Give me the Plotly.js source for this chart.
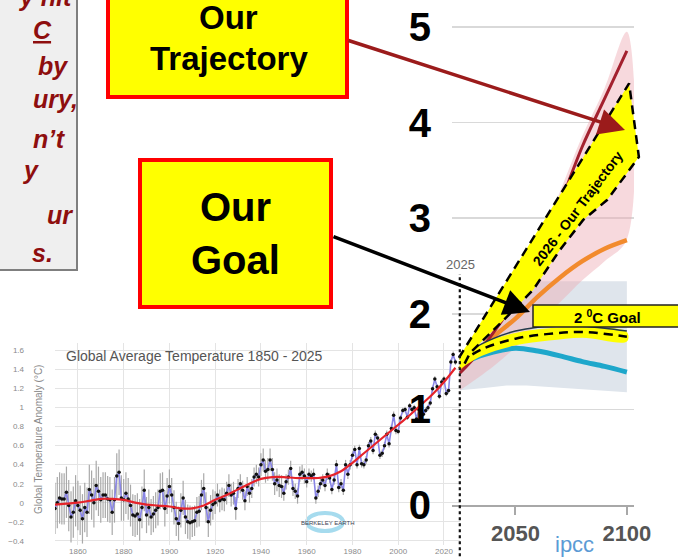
<!DOCTYPE html>
<html><head><meta charset="utf-8">
<script src="https://cdn.plot.ly/plotly-3.0.1.min.js"></script>
<style>html,body{margin:0;padding:0;background:#fff;}#chart{width:678px;height:557px;}</style>
</head><body><div id="chart"></div>
<script>
// ---------- DATA ----------
const berkStartYear = 1850;
const berkAnomaly = [
 -0.06, 0.00, 0.05, 0.04, 0.04, 0.11,-0.03,-0.15,-0.10, 0.02,
 -0.03,-0.08,-0.17,-0.05,-0.10, 0.14, 0.08, 0.00, 0.18, 0.12,
  0.03, 0.08, 0.08, 0.04, 0.03,-0.10, 0.03, 0.28, 0.32, 0.05,
  0.03, 0.10, 0.04,-0.03,-0.13,-0.14,-0.12,-0.18,-0.05, 0.13,
 -0.13,-0.05,-0.15,-0.12,-0.08,-0.05, 0.12, 0.13,-0.06, 0.07,
  0.17, 0.08,-0.05,-0.17,-0.22,-0.08, 0.05,-0.15,-0.20,-0.21,
 -0.20,-0.19,-0.10,-0.09, 0.08, 0.15,-0.05,-0.20,-0.08,-0.02,
  0.00, 0.08, 0.02, 0.04, 0.03, 0.10, 0.18, 0.08, 0.10,-0.06,
  0.15, 0.20, 0.13, 0.02, 0.17, 0.10, 0.15, 0.27, 0.30, 0.27,
  0.40, 0.45, 0.33, 0.35, 0.45, 0.35, 0.20, 0.24, 0.18, 0.17,
  0.10, 0.22, 0.27, 0.36, 0.15, 0.12, 0.07, 0.30, 0.32, 0.28,
  0.22, 0.30, 0.28, 0.30, 0.05, 0.12, 0.20, 0.24, 0.18, 0.30,
  0.26, 0.14, 0.24, 0.40, 0.16, 0.20, 0.13, 0.40, 0.30, 0.40,
  0.50, 0.56, 0.40, 0.57, 0.41, 0.40, 0.45, 0.60, 0.65, 0.55,
  0.72, 0.68, 0.50, 0.52, 0.60, 0.72, 0.62, 0.78, 0.92, 0.76,
  0.75, 0.89, 0.97, 0.98, 0.90, 1.02, 0.98, 1.00, 0.88, 0.98,
  1.05, 0.93, 0.97, 1.00, 1.05, 1.20, 1.30, 1.22, 1.12, 1.27,
  1.30, 1.15, 1.18, 1.48, 1.56, 1.48];
const berkUncDecades = [1850,1860,1870,1880,1890,1900,1910,1920,1930,1940,1950,1960,1970,1980,1990,2000,2010,2020];
const berkUncHalf    = [0.27,0.26,0.24,0.22,0.19,0.18,0.16,0.12,0.10,0.12,0.08,0.06,0.05,0.04,0.04,0.03,0.03,0.03];
const smoothYears = [1850,1855,1860,1865,1870,1875,1880,1885,1890,1895,1900,1905,1910,1915,1920,1925,1930,1935,1940,1945,1950,1955,1960,1965,1970,1975,1980,1985,1990,1995,2000,2005,2010,2015,2020,2025];
const smoothVals  = [-0.02,-0.01,0.00,0.02,0.04,0.04,0.03,0.00,-0.02,-0.03,-0.04,-0.06,-0.06,-0.03,0.03,0.08,0.14,0.20,0.25,0.27,0.27,0.26,0.26,0.26,0.28,0.33,0.42,0.52,0.62,0.72,0.82,0.92,1.03,1.14,1.27,1.42];
const berkTickStart = 1860, berkTickStep = 20, berkYTickStep = 0.2;

const ipccYears = [2025,2030,2040,2050,2060,2070,2080,2090,2100];
const ssp585 = [1.38,1.50,1.80,2.15,2.60,3.15,3.75,4.25,4.75];
const ssp245 = [1.42,1.55,1.76,1.95,2.18,2.38,2.55,2.68,2.77];
const ssp119 = [1.42,1.52,1.60,1.64,1.61,1.56,1.50,1.45,1.39];
const ssp126 = [1.52,1.62,1.74,1.82,1.86,1.87,1.87,1.85,1.82];
const pinkUpper = [1.40,1.55,1.86,2.24,2.72,3.28,3.86,4.36,4.95];
const pinkLower = [1.20,1.28,1.45,1.65,1.90,2.12,2.35,2.55,2.78];
const grayYears = [2025,2035,2046,2055,2100];
const grayUpper = [1.45,1.80,2.30,2.34,2.34];
const grayLower = [1.20,1.22,1.25,1.25,1.18];
const goalYears = [2025,2035,2050,2065,2080,2100];
const goalUpper = [1.55,1.69,1.80,1.85,1.86,1.81];
const goalLower = [1.42,1.56,1.67,1.72,1.75,1.71];
const goalMid   = [1.49,1.63,1.74,1.79,1.81,1.76];
const wedgeYears = [2024.6,2062.8,2101.0,2105.4,2091.1,2080.3,2070.0,2057.9,2046.2,2029.6,2026.3];
const wedgeTemps = [1.54,2.98,4.41,3.64,3.19,2.98,2.67,2.25,1.97,1.59,1.44];
const ipccYTicks = [0,1,2,3,4,5];
const ipccXTicks = [2050,2100];
const markerYear = 2025;

// ---------- helpers ----------
const W = 678, H = 557;
const fx = p => p / W, fy = p => 1 - p / H;
const berkYears = berkAnomaly.map((_, i) => berkStartYear + i);
const berkUnc = berkYears.map(y => berkUncHalf[berkUncDecades.indexOf(Math.floor(y / 10) * 10)]);
const poly = (xs, up, lo) => ({x: xs.concat(xs.slice().reverse()), y: up.concat(lo.slice().reverse())});
const FONT = 'Liberation Sans, Arial, sans-serif';

// pixel geometry of the IPCC panel
const ipX0 = 452, ipX1 = 634, ipYr0 = 2021.5, ipYr1 = 2103.2;
const pxPerYr = (ipX1 - ipX0) / (ipYr1 - ipYr0);
const wedgeX1 = 650;

const traces = [];
// Berkeley
traces.push({x: berkYears, y: berkAnomaly, type: 'scatter', mode: 'markers', xaxis: 'x', yaxis: 'y',
  marker: {size: 1, color: 'rgba(0,0,0,0)'},
  error_y: {type: 'data', array: berkUnc, color: '#a9a9a9', thickness: 1.2, width: 0}});
traces.push({x: berkYears, y: berkAnomaly, type: 'scatter', mode: 'lines+markers', xaxis: 'x', yaxis: 'y',
  line: {color: '#8a86e6', width: 1.6}, marker: {color: '#111', size: 3.5}});
traces.push({x: smoothYears, y: smoothVals, type: 'scatter', mode: 'lines', xaxis: 'x', yaxis: 'y',
  line: {color: '#e5232a', width: 2.2, shape: 'spline'}});
// IPCC
const g = poly(grayYears, grayUpper, grayLower);
traces.push({x: g.x, y: g.y, type: 'scatter', mode: 'lines', fill: 'toself', fillcolor: '#dfe5ec', line: {width: 0}, xaxis: 'x2', yaxis: 'y2'});
const pk = poly(ipccYears, pinkUpper, pinkLower);
traces.push({x: pk.x, y: pk.y, type: 'scatter', mode: 'lines', fill: 'toself', fillcolor: 'rgba(238,170,180,0.45)', line: {width: 0, shape: 'spline'}, xaxis: 'x2', yaxis: 'y2'});
traces.push({x: ipccYears, y: ssp119, type: 'scatter', mode: 'lines', line: {color: '#1ea7cb', width: 5, shape: 'spline'}, xaxis: 'x2', yaxis: 'y2'});
traces.push({x: ipccYears, y: ssp245, type: 'scatter', mode: 'lines', line: {color: '#f28b2d', width: 4.5, shape: 'spline'}, xaxis: 'x2', yaxis: 'y2'});
traces.push({x: ipccYears, y: ssp585, type: 'scatter', mode: 'lines', line: {color: '#a3202e', width: 3, shape: 'spline'}, xaxis: 'x2', yaxis: 'y2'});
const gb = poly(goalYears, goalUpper, goalLower);
traces.push({x: gb.x, y: gb.y, type: 'scatter', mode: 'lines', fill: 'toself', fillcolor: '#ffff00', line: {width: 0, shape: 'spline'}, xaxis: 'x2', yaxis: 'y2'});
traces.push({x: ipccYears, y: ssp126, type: 'scatter', mode: 'lines', line: {color: '#233a4a', width: 1.5, shape: 'spline'}, xaxis: 'x2', yaxis: 'y2'});
traces.push({x: goalYears, y: goalMid, type: 'scatter', mode: 'lines', line: {color: '#000', width: 2.5, dash: '9px,6px', shape: 'spline'}, xaxis: 'x2', yaxis: 'y2'});
// wedge (own subplot so it is not clipped at 2100)
traces.push({x: wedgeYears, y: wedgeTemps, type: 'scatter', mode: 'lines', fill: 'toself', fillcolor: '#ffff00',
  line: {color: '#000', width: 2.5, dash: '9px,6px'}, xaxis: 'x3', yaxis: 'y3'});

const ipRange2 = [0, 5.25];
const layout = {
  width: W, height: H, margin: {l: 0, r: 0, t: 0, b: 0}, autosize: false,
  paper_bgcolor: '#fff', plot_bgcolor: 'rgba(0,0,0,0)', showlegend: false, hovermode: false,
  font: {family: FONT},
  xaxis: {domain: [fx(55), fx(460)], range: [1850, 2027], anchor: 'y', tick0: berkTickStart, dtick: berkTickStep,
    showgrid: true, gridcolor: '#e4e4e4', zeroline: false, showline: false, ticks: '',
    tickfont: {size: 8, color: '#8a8a8a', family: FONT}},
  yaxis: {domain: [fy(545), fy(343)], range: [-0.445, 1.68], anchor: 'x', tick0: 0, dtick: berkYTickStep,
    showgrid: true, gridcolor: '#e4e4e4', zeroline: false, showline: false, ticks: '',
    ticklabelstandoff: 30, tickfont: {size: 8, color: '#8a8a8a', family: FONT}},
  xaxis2: {domain: [fx(ipX0), fx(ipX1)], range: [ipYr0, ipYr1], anchor: 'y2', tickvals: ipccXTicks,
    showgrid: false, zeroline: false, showline: true, linecolor: '#a8a8a8', linewidth: 2,
    ticks: 'outside', ticklen: 8, tickwidth: 2, tickcolor: '#a8a8a8', ticklabelstandoff: 0,
    tickfont: {size: 22, color: '#555', family: FONT, weight: 'bold'}},
  yaxis2: {domain: [fy(505), fy(505 - 95.6 * ipRange2[1])], range: ipRange2, anchor: 'x2', tickvals: ipccYTicks,
    showgrid: true, gridcolor: '#d9d9d9', gridwidth: 1.5, zeroline: false, showline: false, ticks: '',
    ticklabelstandoff: 20, tickfont: {size: 40, color: '#000', family: FONT, weight: 'bold'}},
  xaxis3: {domain: [fx(ipX0), fx(wedgeX1)], range: [ipYr0, ipYr0 + (wedgeX1 - ipX0) / pxPerYr], anchor: 'y3', visible: false},
  yaxis3: {domain: [fy(505), fy(505 - 95.6 * ipRange2[1])], range: ipRange2, anchor: 'x3', visible: false},
  shapes: [
    {type: 'rect', xref: 'paper', yref: 'paper', x0: -0.02, x1: fx(77), y0: fy(270), y1: 1.02,
      fillcolor: '#efefef', line: {color: '#7f7f7f', width: 2}, layer: 'below'},
    {type: 'rect', xref: 'paper', yref: 'paper', x0: fx(108), x1: fx(347), y0: fy(97), y1: 1.02,
      fillcolor: '#ffff00', line: {color: '#ff0000', width: 4}, layer: 'above'},
    {type: 'rect', xref: 'paper', yref: 'paper', x0: fx(140), x1: fx(331), y0: fy(307), y1: fy(160),
      fillcolor: '#ffff00', line: {color: '#ff0000', width: 4}, layer: 'above'},
    {type: 'rect', xref: 'paper', yref: 'paper', x0: fx(533), x1: fx(681), y0: fy(327), y1: fy(305),
      fillcolor: '#ffff00', line: {color: '#222', width: 1.5}, layer: 'above'},
    {type: 'line', xref: 'x2', yref: 'paper', x0: markerYear, x1: markerYear, y0: -0.02, y1: fy(274),
      line: {color: '#111', width: 2.2, dash: 'dot'}, layer: 'above'},
    {type: 'circle', xref: 'paper', yref: 'paper', x0: fx(307), x1: fx(343), y0: fy(531), y1: fy(513),
      line: {color: '#a6dbee', width: 4}, layer: 'below'}
  ],
  annotations: []
};

const A = layout.annotations;
const txt = (text, x, y, o) => A.push(Object.assign({text, x: fx(x), y: fy(y), xref: 'paper', yref: 'paper',
  xanchor: 'center', yanchor: 'middle', showarrow: false}, o || {}));
const redItal = {size: 25, color: '#8e0e0e', family: FONT, weight: 'bold', style: 'italic'};
txt('y hit', 75, -3, {xanchor: 'right', font: redItal});
txt('<u>C</u>', 54, 30, {xanchor: 'right', font: redItal});
txt('by', 70, 66, {xanchor: 'right', font: redItal});
txt('ury,', 80, 99, {xanchor: 'right', font: redItal});
txt('n’t', 68, 139, {xanchor: 'right', font: redItal});
txt('y', 41, 170, {xanchor: 'right', font: redItal});
txt('ur', 75, 215, {xanchor: 'right', font: redItal});
txt('s.', 55, 253, {xanchor: 'right', font: redItal});

const boxFont = s => ({size: s, color: '#000', family: FONT, weight: 'bold'});
txt('Our', 228, 18, {font: boxFont(33)});
txt('Trajectory', 229, 59, {font: boxFont(33)});
txt('Our', 235, 207, {font: boxFont(40)});
txt('Goal', 235, 260, {font: boxFont(40)});
txt('2 <sup>0</sup>C Goal', 607, 316, {font: boxFont(15)});
txt('2025', 460, 264, {font: {size: 13, color: '#666', family: FONT}});
txt('ipcc', 574, 544, {font: {size: 22, color: '#5b9bd5', family: FONT}});
txt('2026 - Our Trajectory', 578, 208, {textangle: -53, font: boxFont(14)});
txt('Global Average Temperature 1850 - 2025', 64, 356, {xanchor: 'left', font: {size: 14, color: '#555', family: FONT}});
txt('Global Temperature Anomaly (°C)', 38, 440, {textangle: -90, font: {size: 10, color: '#8a8a8a', family: FONT}});
txt('BERKELEY EARTH', 327, 523, {font: {size: 6, color: '#445', family: FONT}});

// arrows
A.push({text: '', x: fx(625), y: fy(130), xref: 'paper', yref: 'paper', ax: 347 - 625, ay: 40 - 130, axref: 'pixel', ayref: 'pixel',
  showarrow: true, arrowhead: 2, arrowsize: 1.5, arrowwidth: 3.5, arrowcolor: '#9b1b1b'});
A.push({text: '', x: fx(530), y: fy(312), xref: 'paper', yref: 'paper', ax: 332 - 530, ay: 236 - 312, axref: 'pixel', ayref: 'pixel',
  showarrow: true, arrowhead: 2, arrowsize: 1.5, arrowwidth: 3.5, arrowcolor: '#000'});

Plotly.newPlot('chart', traces, layout, {staticPlot: true, displayModeBar: false});
</script>
</body></html>
